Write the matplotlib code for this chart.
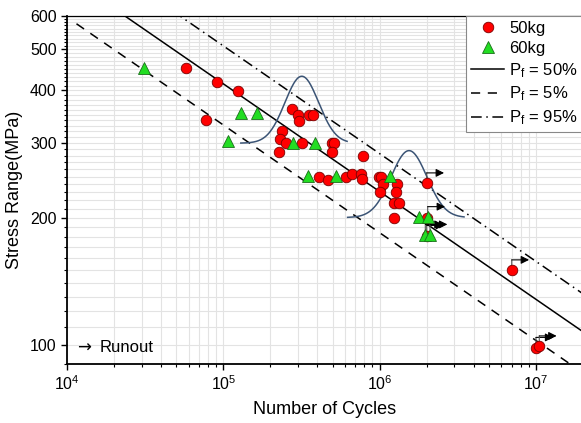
import numpy as np
import matplotlib
matplotlib.use('Agg')
import matplotlib.pyplot as plt
import matplotlib.ticker as mticker
import matplotlib.transforms as mtransforms

plt.rcParams['font.family'] = ['Liberation Sans', 'DejaVu Sans']
plt.rcParams['mathtext.fontset'] = 'custom'
plt.rcParams['mathtext.rm'] = 'Liberation Sans'
plt.rcParams['mathtext.it'] = 'Liberation Sans:italic'

# 50kg specimens (cycles, stress range MPa)
n_50 = [57400, 90800, 77500, 123600, 276000, 302000, 306000, 355000, 377000,
        237000, 231000, 251000, 317000, 494000, 511000, 498000, 228000,
        409000, 470000, 609000, 787000, 664000, 757000, 775000, 990000,
        1016000, 1047000, 1007000, 1285000, 1265000, 1240000, 1330000,
        1236000, 2000000, 2000000, 2000000, 7000000, 10000000, 10500000]
s_50 = [451, 419, 340, 399, 361, 350, 339, 350, 350,
        320, 307, 300, 300, 300, 300, 286, 286,
        250, 245, 250, 280, 254, 254, 247, 250,
        250, 240, 230, 240, 230, 216, 216,
        200, 241, 200, 181, 150, 98.3, 99.1]

# 60kg specimens
n_60 = [31300, 129000, 164000, 107700, 280000, 386000, 350000, 526000,
        1166000, 1790000, 2030000, 1960000, 2100000]
s_60 = [451, 353, 353, 303, 301, 301, 251, 251,
        251, 200.5, 200.5, 182, 182]

# runouts (arrow marks)
n_run = [2000000, 2030000, 1960000, 2000000, 2100000, 7000000, 10000000, 10500000]
s_run = [241, 200.5, 182, 181, 182, 150, 98.3, 99.1]

# S-N curves: log10(N) = a - m*log10(S)
m_slope = 3.92
a_50 = 15.261
a_05 = 14.879
a_95 = 15.613

# distribution curves: stress level, centre log10(N), sigma, left/right extent
pdf_s = [300, 200]
pdf_mu = [5.502, 6.188]
pdf_sig = [0.108, 0.115]
pdf_lo = [0.39, 0.393]
pdf_hi = [0.29, 0.352]

fig = plt.figure(figsize=(5.81, 4.23), dpi=100)
ax = fig.add_axes([67/581, 59/423, 516/581, 348/423])
ax.set_xscale('log')
ax.set_yscale('log')
ax.set_xlim(1e4, 2e7)
ax.set_ylim(90, 600)

nn = np.logspace(np.log10(1.15e4), np.log10(2e7), 200)
for a, ls, lab in [(a_50, '-', r'$\mathregular{P_f}$ = 50%'),
                   (a_05, (0, (6, 5)), r'$\mathregular{P_f}$ = 5%'),
                   (a_95, (0, (7, 3, 1, 3)), r'$\mathregular{P_f}$ = 95%')]:
    ss = 10 ** ((a - np.log10(nn)) / m_slope)
    ax.plot(nn, ss, color='black', ls=ls, lw=1.1, label=lab, zorder=3)

# bell curves
h = 67 / 423
for s0, mu, sg, lo, hi in zip(pdf_s, pdf_mu, pdf_sig, pdf_lo, pdf_hi):
    x = np.linspace(mu - lo, mu + hi, 200)
    y = np.exp(-0.5 * ((x - mu) / sg) ** 2)
    ax.plot(10 ** x, s0 * 10 ** (h * y), color='#3b5475', lw=1.1, zorder=3)

# runout arrows
for n, s in zip(n_run, s_run):
    ax.annotate('', xy=(n, s), xycoords='data', xytext=(0, 7.5),
                textcoords='offset points',
                arrowprops=dict(arrowstyle='-', color='#555555', lw=0.8,
                                shrinkA=0, shrinkB=0), zorder=4)
    tr = mtransforms.offset_copy(ax.transData, fig=fig, x=12.5, y=7.5, units='points')
    ax.annotate('', xy=(n, s), xycoords=tr, xytext=(-12.5, 0),
                textcoords='offset points',
                arrowprops=dict(arrowstyle='-|>', color='black', lw=0.8,
                                mutation_scale=12, shrinkA=0, shrinkB=0), zorder=4)

ax.plot(n_50, s_50, 'o', ms=7.6, mfc='#ff0000', mec='#7a0000', mew=0.6,
        ls='none', label='50kg', zorder=5)
ax.plot(n_60, s_60, '^', ms=8.5, mfc='#22dd22', mec='#1a6e1a', mew=0.6,
        ls='none', label='60kg', zorder=5)

ax.yaxis.set_major_locator(mticker.FixedLocator([100, 200, 300, 400, 500, 600]))
ax.yaxis.set_major_formatter(mticker.FixedFormatter(['100', '200', '300', '400', '500', '600']))
ax.yaxis.set_minor_locator(mticker.FixedLocator(np.arange(90, 601, 10)))
ax.yaxis.set_minor_formatter(mticker.NullFormatter())
ax.xaxis.set_major_locator(mticker.LogLocator(base=10))
ax.xaxis.set_minor_locator(mticker.LogLocator(base=10, subs=np.arange(2, 10)))
ax.xaxis.set_minor_formatter(mticker.NullFormatter())

ax.grid(True, which='both', color='#e3e3e3', lw=0.8, zorder=0)
ax.set_axisbelow(True)
ax.tick_params(which='major', direction='out', length=4.5, width=1, labelsize=11.5, pad=3)
ax.tick_params(which='minor', direction='out', length=2.5, width=0.8)
for sp in ['left', 'bottom']:
    ax.spines[sp].set_linewidth(1.3)
ax.spines['top'].set_linewidth(0.9)

ax.set_xlabel('Number of Cycles', fontsize=13, labelpad=6)
ax.set_ylabel('Stress Range(MPa)', fontsize=13, labelpad=5)

ax.text(0.019, 0.046, '\u2192', transform=ax.transAxes, family=['DejaVu Sans'],
        fontsize=12, va='center', ha='left')
ax.text(0.064, 0.046, 'Runout', transform=ax.transAxes,
        fontsize=12, va='center', ha='left')

h_list, l_list = ax.get_legend_handles_labels()
order = [3, 4, 0, 1, 2]
leg = ax.legend([h_list[i] for i in order], [l_list[i] for i in order],
                loc='upper right', bbox_to_anchor=(1.0, 1.0), borderaxespad=0,
                fontsize=12, frameon=True, fancybox=False, edgecolor='#888888',
                handlelength=2.0, handletextpad=0.3, labelspacing=0.3,
                borderpad=0.3, framealpha=1)
leg.get_frame().set_linewidth(0.8)

fig.savefig('out.png', dpi=100)
